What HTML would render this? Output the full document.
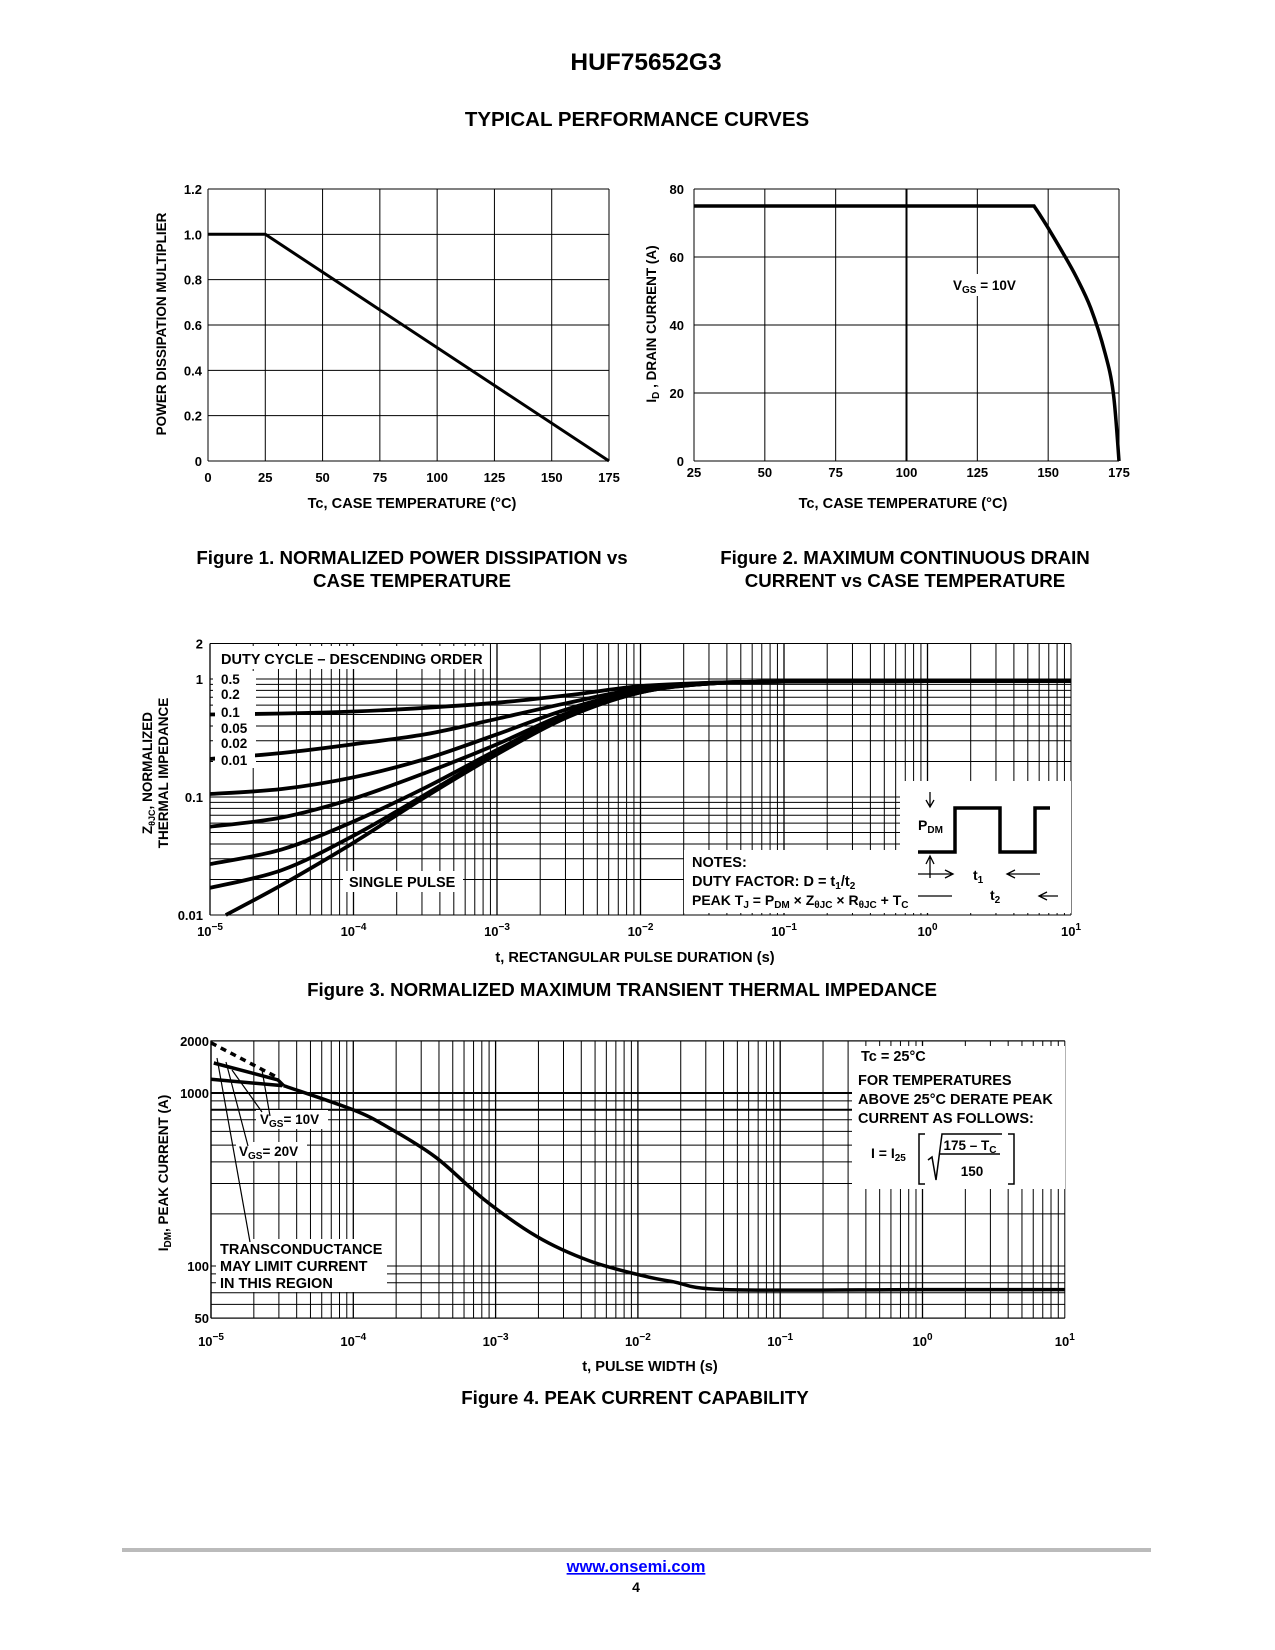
<!DOCTYPE html>
<html><head><meta charset="utf-8"><style>
html,body{margin:0;padding:0;background:#fff}
svg{display:block;font-family:"Liberation Sans",sans-serif;font-weight:bold}
text{fill:#000}
</style></head><body>
<svg id="pg" width="1275" height="1650" viewBox="0 0 1275 1650" xmlns="http://www.w3.org/2000/svg">
<text x="646" y="70" font-size="24.5" text-anchor="middle">HUF75652G3</text>
<text x="637" y="126" font-size="20.5" text-anchor="middle">TYPICAL PERFORMANCE CURVES</text>
<text x="412" y="564" font-size="18.7" text-anchor="middle">Figure 1. NORMALIZED POWER DISSIPATION vs</text>
<text x="412" y="587" font-size="18.7" text-anchor="middle">CASE TEMPERATURE</text>
<text x="905" y="564" font-size="18.7" text-anchor="middle">Figure 2. MAXIMUM CONTINUOUS DRAIN</text>
<text x="905" y="587" font-size="18.7" text-anchor="middle">CURRENT vs CASE TEMPERATURE</text>
<text x="622" y="996" font-size="18.7" text-anchor="middle">Figure 3. NORMALIZED MAXIMUM TRANSIENT THERMAL IMPEDANCE</text>
<text x="635" y="1404" font-size="18.7" text-anchor="middle">Figure 4. PEAK CURRENT CAPABILITY</text>
<rect x="122" y="1548" width="1029" height="4" fill="#bbb"/>
<a href="#"><text x="636" y="1572" font-size="16.5" text-anchor="middle" style="fill:#00f;text-decoration:underline">www.onsemi.com</text></a>
<text x="636" y="1592" font-size="14" text-anchor="middle">4</text>
</svg>
<script>
// ---- Figure 1 data ----
const f1Temps = [0, 25, 175];
const f1Mult = [1.0, 1.0, 0];
const f1XTicks = [0, 25, 50, 75, 100, 125, 150, 175];
const f1YTicks = [0, 0.2, 0.4, 0.6, 0.8, 1.0, 1.2];
// ---- Figure 2 data ----
const f2Temps = [25, 145, 147, 150, 155, 160, 165, 170, 173, 175];
const f2Current = [75, 75, 72.5, 68.5, 61.5, 54, 45, 32, 20, 0];
const f2XTicks = [25, 50, 75, 100, 125, 150, 175];
const f2YTicks = [0, 20, 40, 60, 80];
// ---- Figure 3 data (log10 t) ----
const f3LogT = [-5, -4.5, -4, -3.5, -3, -2.5, -2, -1.5, -1, 0, 1];
const f3D05 = [0.5, 0.51, 0.53, 0.57, 0.63, 0.73, 0.87, 0.93, 0.95, 0.96, 0.96];
const f3D02 = [0.21, 0.236, 0.28, 0.34, 0.46, 0.63, 0.83, 0.93, 0.95, 0.96, 0.96];
const f3D01 = [0.106, 0.117, 0.147, 0.21, 0.34, 0.56, 0.8, 0.92, 0.95, 0.96, 0.96];
const f3D005 = [0.056, 0.067, 0.097, 0.16, 0.28, 0.52, 0.79, 0.92, 0.95, 0.96, 0.96];
const f3D002 = [0.027, 0.036, 0.062, 0.12, 0.25, 0.5, 0.78, 0.92, 0.95, 0.96, 0.96];
const f3D001 = [0.017, 0.024, 0.047, 0.105, 0.24, 0.49, 0.77, 0.92, 0.95, 0.96, 0.96];
const f3SingleLogT = [-4.89, -4.5, -4, -3.5, -3, -2.5, -2, -1.5, -1, 0, 1];
const f3Single = [0.01, 0.018, 0.041, 0.1, 0.23, 0.48, 0.77, 0.92, 0.95, 0.96, 0.96];
const f3YTicks = [0.01, 0.1, 1, 2];
const f3XExp = [-5, -4, -3, -2, -1, 0, 1];
// ---- Figure 4 data ----
const f4LogT = [-4.49, -4.0, -3.75, -3.42, -3.08, -2.71, -2.34, -1.97, -1.75, -1.38, 0, 1];
const f4Peak = [1103, 799, 629, 425, 242, 148, 107, 88, 81, 73, 73, 73];
const f4TransLogT = [-5, -4.55];
const f4TransI = [1950, 1250];
const f4V20LogT = [-4.98, -4.53];
const f4V20I = [1490, 1190];
const f4V10LogT = [-5, -4.5];
const f4V10I = [1200, 1103];
const f4YTicks = [50, 100, 1000, 2000];
const f4XExp = [-5, -4, -3, -2, -1, 0, 1];

const NS = 'http://www.w3.org/2000/svg';
const svg = document.getElementById('pg');
function mk(tag, a, parent) {
  const e = document.createElementNS(NS, tag);
  for (const k in a) e.setAttribute(k, a[k]);
  (parent || svg).appendChild(e);
  return e;
}
function line(x1, y1, x2, y2, w) {
  return mk('line', {x1: x1, y1: y1, x2: x2, y2: y2, stroke: '#000', 'stroke-width': w || 1});
}
function txt(x, y, s, size, anchor) {
  const t = mk('text', {x: x, y: y, 'font-size': size || 13, 'text-anchor': anchor || 'middle'});
  t.textContent = s;
  return t;
}
function pathFrom(xs, ys, fx, fy) {
  let d = '';
  for (let i = 0; i < xs.length; i++) d += (i ? 'L' : 'M') + fx(xs[i]).toFixed(1) + ',' + fy(ys[i]).toFixed(1);
  return d;
}
function smoothFrom(xs, ys, fx, fy) {
  const P = xs.map((x, i) => [fx(x), fy(ys[i])]);
  let d = 'M' + P[0][0].toFixed(1) + ',' + P[0][1].toFixed(1);
  for (let i = 0; i < P.length - 1; i++) {
    const p0 = P[i - 1] || P[i], p1 = P[i], p2 = P[i + 1], p3 = P[i + 2] || P[i + 1];
    const c1 = [p1[0] + (p2[0] - p0[0]) / 6, p1[1] + (p2[1] - p0[1]) / 6];
    const c2 = [p2[0] - (p3[0] - p1[0]) / 6, p2[1] - (p3[1] - p1[1]) / 6];
    d += 'C' + c1.map(v => v.toFixed(1)) + ' ' + c2.map(v => v.toFixed(1)) + ' ' + p2[0].toFixed(1) + ',' + p2[1].toFixed(1);
  }
  return d;
}
function powLabel(x, y, e) {
  const t = mk('text', {x: x, y: y, 'font-size': 13, 'text-anchor': 'middle'});
  t.textContent = '10';
  const s = mk('tspan', {dy: -6, 'font-size': 10}, t);
  s.textContent = (e < 0 ? '\u2212' : '') + Math.abs(e);
  return t;
}

// ================= Figure 1 =================
const X1 = t => 208 + t / 175 * 401;
const Y1 = v => 461 - v / 1.2 * 272;
f1XTicks.forEach(t => {
  const g = line(X1(t), Y1(0), X1(t), Y1(1.2));
  
  
  const l = txt(X1(t), 482, String(t));
  
  
});
f1YTicks.forEach(v => {
  const g = line(X1(0), Y1(v), X1(175), Y1(v));
  
  
  const l = txt(202, Y1(v) + 5, v === 0 ? '0' : v.toFixed(1), 13, 'end');
  
  
});
const f1c = mk('path', {d: pathFrom(f1Temps, f1Mult, X1, Y1), fill: 'none', stroke: '#000', 'stroke-width': 3});


const f1xt = txt(412, 508, 'Tc, CASE TEMPERATURE (\u00b0C)', 14.6);


const f1yt = txt(0, 0, 'POWER DISSIPATION MULTIPLIER', 13.5);
f1yt.setAttribute('transform', 'translate(166,324) rotate(-90)');



// ================= Figure 2 =================
const X2 = t => 694 + (t - 25) / 150 * 425;
const Y2 = i => 461 - i / 80 * 272;
f2XTicks.forEach(t => {
  const g = line(X2(t), Y2(0), X2(t), Y2(80), t === 100 ? 2 : 1);
  
  
  const l = txt(X2(t), 477, String(t));
  
  
});
f2YTicks.forEach(v => {
  const g = line(X2(25), Y2(v), X2(175), Y2(v));
  
  
  const l = txt(684, Y2(v) + 5, String(v), 13, 'end');
  
  
});
const f2c = mk('path', {d: pathFrom(f2Temps.slice(0, 2), f2Current.slice(0, 2), X2, Y2) + smoothFrom(f2Temps.slice(1), f2Current.slice(1), X2, Y2).replace('M', 'L'), fill: 'none', stroke: '#000', 'stroke-width': 3.5});


const f2m = mk('rect', {x: 948, y: 274, width: 80, height: 22, fill: '#fff'});


const f2v = mk('text', {x: 953, y: 290, 'font-size': 13.5});
f2v.innerHTML = 'V<tspan font-size="10" dy="3">GS</tspan><tspan dy="-3"> = 10V</tspan>';


const f2xt = txt(903, 508, 'Tc, CASE TEMPERATURE (\u00b0C)', 14.6);


const f2yt = mk('text', {'font-size': 13.5, 'text-anchor': 'middle', transform: 'translate(656,324) rotate(-90)'});
f2yt.innerHTML = 'I<tspan font-size="10" dy="3">D</tspan><tspan dy="-3"> , DRAIN CURRENT (A)</tspan>';



// ================= Figure 3 =================
const X3 = lt => 210 + (lt + 5) * 143.5;
const Y3 = z => 679 - Math.log10(z) * 118;
for (let k = -5; k <= 0; k++) for (let m = 1; m <= 9; m++) {
  const x = X3(k + Math.log10(m));
  const g = line(x, Y3(2), x, Y3(0.01), m === 1 ? 1.3 : 1);
  
  
}
const f3r = line(X3(1), Y3(2), X3(1), Y3(0.01));


const f3h = [2];
for (let m = 1; m <= 9; m++) { f3h.push(m / 100); f3h.push(m / 10); }
f3h.push(1);
f3h.forEach(z => {
  const g = line(X3(-5), Y3(z), X3(1), Y3(z), 1);
  
  
});
[[216, 646, 273, 23], [213, 671, 43, 97], [343, 871, 120, 21], [684, 850, 387, 63], [900, 781, 171, 132]].forEach(b => {
  const r = mk('rect', {x: b[0], y: b[1], width: b[2], height: b[3], fill: '#fff'});
  
  
});
const f3b = line(X3(-5), Y3(2), X3(1), Y3(2));


const f3l = line(X3(-5), Y3(2), X3(-5), Y3(0.01));


const f3bb = line(X3(-5), Y3(0.01), X3(1), Y3(0.01));


const f3Series = [[f3LogT, f3D05, 'duty-0.5'], [f3LogT, f3D02, 'duty-0.2'], [f3LogT, f3D01, 'duty-0.1'], [f3LogT, f3D005, 'duty-0.05'], [f3LogT, f3D002, 'duty-0.02'], [f3LogT, f3D001, 'duty-0.01'], [f3SingleLogT, f3Single, 'single-pulse']];
f3Series.forEach(s => {
  const p = mk('path', {d: smoothFrom(s[0], s[1], X3, Y3), fill: 'none', stroke: '#000', 'stroke-width': 3.8});
  
  
});
const lgbg = mk('rect', {x: 215, y: 671, width: 40, height: 97, fill: '#fff'});


f3YTicks.forEach(z => {
  const l = txt(203, Y3(z) + 5, String(z), 13, 'end');
  
  
});
f3XExp.forEach(e => {
  const l = powLabel(X3(e), 936, e);
  
  
});
const f3lg = txt(221, 664, 'DUTY CYCLE \u2013 DESCENDING ORDER', 14.5, 'start');


['0.5', '0.2', '0.1', '0.05', '0.02', '0.01'].forEach((s, i) => {
  const l = txt(221, [684, 699, 717, 733, 748, 765][i], s, 13.5, 'start');
  
  
});
const f3sp = txt(349, 887, 'SINGLE PULSE', 14.5, 'start');


const n1 = txt(692, 867, 'NOTES:', 14.5, 'start');


const n2 = mk('text', {x: 692, y: 886, 'font-size': 14.5});
n2.innerHTML = 'DUTY FACTOR: D = t<tspan font-size="10" dy="3">1</tspan><tspan dy="-3">/t</tspan><tspan font-size="10" dy="3">2</tspan>';


const n3 = mk('text', {x: 692, y: 905, 'font-size': 14});
n3.innerHTML = 'PEAK T<tspan font-size="10" dy="3">J</tspan><tspan dy="-3"> = P</tspan><tspan font-size="10" dy="3">DM</tspan><tspan dy="-3"> \u00d7 Z</tspan><tspan font-size="10" dy="3">\u03b8JC</tspan><tspan dy="-3"> \u00d7 R</tspan><tspan font-size="10" dy="3">\u03b8JC</tspan><tspan dy="-3"> + T</tspan><tspan font-size="10" dy="3">C</tspan>';


const pw = mk('path', {d: 'M918,852 L955,852 L955,808 L1000,808 L1000,852 L1035,852 L1035,808 L1050,808', fill: 'none', stroke: '#000', 'stroke-width': 3.5});


const pa = mk('path', {d: 'M930,792 L930,806 M926,800 L930,807 L934,800 M930,878 L930,856 M926,864 L930,856 L934,864 M918,874 L952,874 M945,870 L953,874 L945,878 M1040,874 L1008,874 M1015,870 L1007,874 L1015,878 M918,896 L952,896 M1058,896 L1040,896 M1047,892 L1039,896 L1047,900', fill: 'none', stroke: '#000', 'stroke-width': 1.3});


const pdm = mk('text', {x: 918, y: 830, 'font-size': 14});
pdm.innerHTML = 'P<tspan font-size="10" dy="3">DM</tspan>';


const t1 = mk('text', {x: 973, y: 880, 'font-size': 14});
t1.innerHTML = 't<tspan font-size="10" dy="3">1</tspan>';


const t2 = mk('text', {x: 990, y: 900, 'font-size': 14});
t2.innerHTML = 't<tspan font-size="10" dy="3">2</tspan>';


const f3xt = txt(635, 962, 't, RECTANGULAR PULSE DURATION (s)', 14.6);


const f3yt = mk('text', {'font-size': 13.5, 'text-anchor': 'middle', transform: 'translate(152,773) rotate(-90)'});
f3yt.innerHTML = 'Z<tspan font-size="9" dy="3">\u03b8JC</tspan><tspan dy="-3">, NORMALIZED</tspan>';


const f3yt2 = txt(0, 0, 'THERMAL IMPEDANCE', 13.5);
f3yt2.setAttribute('transform', 'translate(168,773) rotate(-90)');



// ================= Figure 4 =================
const X4 = lt => 211 + (lt + 5) * 142.3;
const Y4 = i => 1093 - (Math.log10(i) - 3) * 173;
for (let k = -5; k <= 0; k++) for (let m = 1; m <= 9; m++) {
  const x = X4(k + Math.log10(m));
  const g = line(x, Y4(2000), x, Y4(50), m === 1 ? 1.3 : 1);
  
  
}
const f4r = line(X4(1), Y4(2000), X4(1), Y4(50));


const f4h = [50, 60, 70, 80, 90, 100, 200, 300, 400, 500, 600, 700, 800, 900, 1000, 2000];
f4h.forEach(v => {
  const g = line(X4(-5), Y4(v), X4(1), Y4(v), (v === 1000 || v === 800) ? 2 : 1);
  
  
});
[[852, 1046, 213, 143], [216, 1239, 171, 53], [256, 1110, 72, 19], [236, 1142, 71, 19]].forEach(b => {
  const r = mk('rect', {x: b[0], y: b[1], width: b[2], height: b[3], fill: '#fff'});
  
  
});
const f4b = mk('path', {d: 'M' + X4(-5) + ',' + Y4(50) + 'V' + Y4(2000) + 'H' + X4(1) + 'M' + X4(-5) + ',' + Y4(50) + 'H' + X4(1), fill: 'none', stroke: '#000', 'stroke-width': 1.2});


const f4c = mk('path', {d: smoothFrom(f4LogT, f4Peak, X4, Y4), fill: 'none', stroke: '#000', 'stroke-width': 3.5});


const f4d = mk('path', {d: pathFrom(f4TransLogT, f4TransI, X4, Y4), fill: 'none', stroke: '#000', 'stroke-width': 3.5, 'stroke-dasharray': '6,5'});


const f4v20 = mk('path', {d: pathFrom(f4V20LogT.concat([f4LogT[0]]), f4V20I.concat([f4Peak[0]]), X4, Y4), fill: 'none', stroke: '#000', 'stroke-width': 3.5});


const f4v10 = mk('path', {d: pathFrom(f4V10LogT, f4V10I, X4, Y4), fill: 'none', stroke: '#000', 'stroke-width': 3.5});


const f4p = mk('path', {d: 'M262,1112 L232,1070 M248,1146 L226,1062 M250,1242 L217,1058 M270,1116 L262,1070', fill: 'none', stroke: '#000', 'stroke-width': 1.2});


f4YTicks.forEach(v => {
  const l = txt(209, Y4(v) + 5, String(v), 13, 'end');
  
  
});
f4XExp.forEach(e => {
  const l = powLabel(X4(e), 1346, e);
  
  
});
const v10 = mk('text', {x: 260, y: 1124, 'font-size': 13.5});
v10.innerHTML = 'V<tspan font-size="10" dy="3">GS</tspan><tspan dy="-3">= 10V</tspan>';


const v20 = mk('text', {x: 239, y: 1156, 'font-size': 13.5});
v20.innerHTML = 'V<tspan font-size="10" dy="3">GS</tspan><tspan dy="-3">= 20V</tspan>';


['TRANSCONDUCTANCE', 'MAY LIMIT CURRENT', 'IN THIS REGION'].forEach((s, i) => {
  const l = txt(220, 1254 + i * 17, s, 14.5, 'start');
  
  
});
const tc = txt(861, 1061, 'Tc = 25\u00b0C', 14.5, 'start');


['FOR TEMPERATURES', 'ABOVE 25\u00b0C DERATE PEAK', 'CURRENT AS FOLLOWS:'].forEach((s, i) => {
  const l = txt(858, 1085 + i * 19, s, 14.5, 'start');
  
  
});
const fi = mk('text', {x: 871, y: 1158, 'font-size': 14});
fi.innerHTML = 'I = I<tspan font-size="10" dy="3">25</tspan>';


const fb = mk('path', {d: 'M925,1134 H919 V1184 H925 M1008,1134 H1014 V1184 H1008 M928,1160 L932,1157 L936,1180 L942,1134 H1002 M940,1154 H1000', fill: 'none', stroke: '#000', 'stroke-width': 1.5});


const fn = mk('text', {x: 970, y: 1150, 'font-size': 13.5, 'text-anchor': 'middle'});
fn.innerHTML = '175 \u2013 T<tspan font-size="10" dy="3">C</tspan>';


const fd = txt(972, 1176, '150', 13.5);


const f4xt = txt(650, 1371, 't, PULSE WIDTH (s)', 14.6);


const f4yt = mk('text', {'font-size': 13.5, 'text-anchor': 'middle', transform: 'translate(168,1173) rotate(-90)'});
f4yt.innerHTML = 'I<tspan font-size="10" dy="3">DM</tspan><tspan dy="-3">, PEAK CURRENT (A)</tspan>';


</script>
</body></html>
